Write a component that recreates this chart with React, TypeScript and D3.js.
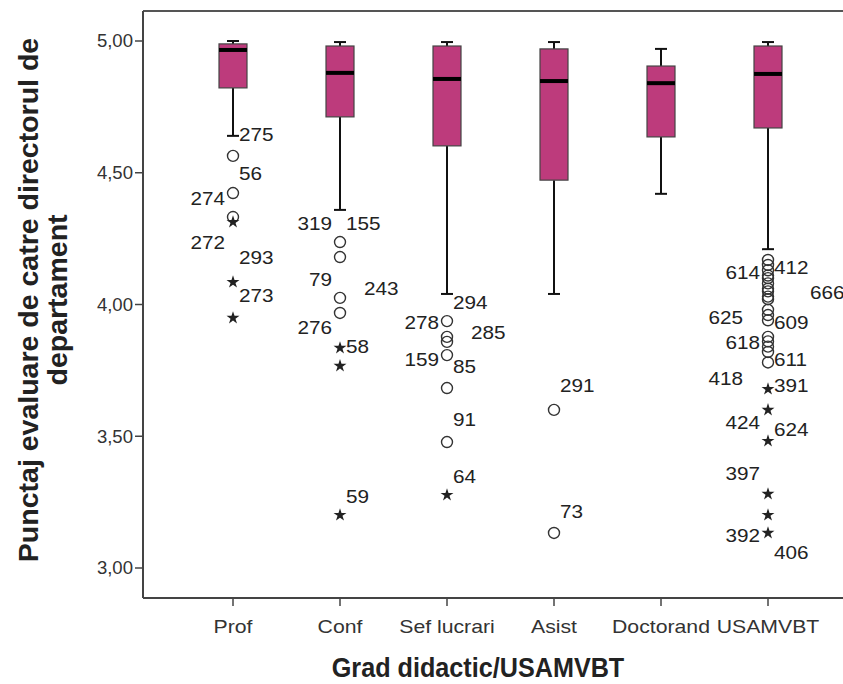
import React from "react";
import * as d3 from "d3";

const categories = ["Prof", "Conf", "Sef lucrari", "Asist", "Doctorand", "USAMVBT"];
const whiskerHigh = [5.0, 4.996, 4.996, 4.996, 4.97, 4.996];
const q3 = [4.989, 4.981, 4.981, 4.97, 4.905, 4.981];
const median = [4.966, 4.879, 4.856, 4.848, 4.84, 4.875];
const q1 = [4.822, 4.712, 4.602, 4.472, 4.636, 4.67];
const whiskerLow = [4.64, 4.359, 4.04, 4.04, 4.42, 4.21];

// outliers: [category, value]
const circleOutliers: [string, number][] = [
  ["Prof", 4.564], ["Prof", 4.423], ["Prof", 4.332],
  ["Conf", 4.237], ["Conf", 4.18], ["Conf", 4.025], ["Conf", 3.968],
  ["Sef lucrari", 3.937], ["Sef lucrari", 3.877], ["Sef lucrari", 3.858], ["Sef lucrari", 3.808],
  ["Sef lucrari", 3.683], ["Sef lucrari", 3.478],
  ["Asist", 3.6], ["Asist", 3.133],
  ["USAMVBT", 4.169], ["USAMVBT", 4.15], ["USAMVBT", 4.13], ["USAMVBT", 4.11], ["USAMVBT", 4.1],
  ["USAMVBT", 4.08], ["USAMVBT", 4.06], ["USAMVBT", 4.05], ["USAMVBT", 4.03], ["USAMVBT", 4.02],
  ["USAMVBT", 3.98], ["USAMVBT", 3.96], ["USAMVBT", 3.94],
  ["USAMVBT", 3.877], ["USAMVBT", 3.86], ["USAMVBT", 3.84], ["USAMVBT", 3.82], ["USAMVBT", 3.78],
];
const starOutliers: [string, number][] = [
  ["Prof", 4.313], ["Prof", 4.085], ["Prof", 3.949],
  ["Conf", 3.835], ["Conf", 3.767], ["Conf", 3.201],
  ["Sef lucrari", 3.277],
  ["USAMVBT", 3.679], ["USAMVBT", 3.6], ["USAMVBT", 3.482], ["USAMVBT", 3.281], ["USAMVBT", 3.201], ["USAMVBT", 3.133],
];
// case labels: [text, category, value at label centre, side]
const caseLabels: [string, string, number, string][] = [
  ["275", "Prof", 4.647, "r"], ["56", "Prof", 4.499, "r"], ["274", "Prof", 4.404, "l"],
  ["272", "Prof", 4.237, "l"], ["293", "Prof", 4.18, "r"], ["273", "Prof", 4.036, "r"],
  ["319", "Conf", 4.309, "l"], ["155", "Conf", 4.309, "r"], ["79", "Conf", 4.093, "l"],
  ["243", "Conf", 4.059, "rr"], ["276", "Conf", 3.911, "l"], ["58", "Conf", 3.839, "r"], ["59", "Conf", 3.273, "r"],
  ["294", "Sef lucrari", 4.009, "r"], ["278", "Sef lucrari", 3.93, "l"], ["285", "Sef lucrari", 3.892, "rr"],
  ["159", "Sef lucrari", 3.79, "l"], ["85", "Sef lucrari", 3.763, "r"], ["91", "Sef lucrari", 3.562, "r"],
  ["64", "Sef lucrari", 3.349, "r"],
  ["291", "Asist", 3.691, "r"], ["73", "Asist", 3.213, "r"],
  ["614", "USAMVBT", 4.12, "l"], ["412", "USAMVBT", 4.139, "r"], ["666", "USAMVBT", 4.047, "rrr"],
  ["625", "USAMVBT", 3.949, "ll"], ["609", "USAMVBT", 3.93, "r"], ["618", "USAMVBT", 3.854, "l"],
  ["611", "USAMVBT", 3.79, "r"], ["418", "USAMVBT", 3.721, "ll"], ["391", "USAMVBT", 3.691, "r"],
  ["424", "USAMVBT", 3.554, "l"], ["624", "USAMVBT", 3.524, "r"], ["397", "USAMVBT", 3.36, "l"],
  ["392", "USAMVBT", 3.125, "l"], ["406", "USAMVBT", 3.057, "r"],
];
const yTicks = [3.0, 3.5, 4.0, 4.5, 5.0];
const xTitle = "Grad didactic/USAMVBT";
const yTitleLines = ["Punctaj evaluare de catre directorul de", "departament"];

const W = 843, H = 684;
const frame = { left: 143, top: 11, bottom: 598 };
const FILL = "#bd3b7c";
const FONT = "'Liberation Sans', Arial, sans-serif";

const sideOffset: Record<string, [number, string]> = {
  r: [6, "start"], rr: [24, "start"], rrr: [42, "start"],
  l: [-8, "end"], ll: [-25, "end"],
};

function SText({ x, y, sx = 1.15, anchor = "start", size = 18, fill = "#222", weight = "normal", children }: any) {
  return (
    <text transform={`translate(${x},${y}) scale(${sx},1)`} textAnchor={anchor}
      dominantBaseline="central" fontFamily={FONT} fontSize={size} fontWeight={weight} fill={fill}>
      {children}
    </text>
  );
}

export default function App() {
  const y = d3.scaleLinear().domain([3, 5]).range([568, 41]);
  const x = d3.scalePoint<string>().domain(categories).range([233, 768]);
  const bw = 28, cw = 12;
  const fmt = (v: number) => d3.format(".2f")(v).replace(".", ",");
  const star = d3.symbol().type(d3.symbolStar).size(52)();

  return (
    <svg width={W} height={H} style={{ display: "block", position: "absolute", left: 0, top: 0 }}>
      <rect width={W} height={H} fill="#fff" />
      {/* frame */}
      <line x1={frame.left} x2={W + 5} y1={frame.top} y2={frame.top} stroke="#555" strokeWidth={2} />
      <line x1={frame.left} x2={frame.left} y1={frame.top} y2={frame.bottom} stroke="#444" strokeWidth={2} />
      <line x1={frame.left} x2={W + 5} y1={frame.bottom} y2={frame.bottom} stroke="#444" strokeWidth={2} />
      {/* y ticks */}
      {yTicks.map((t) => (
        <g key={t}>
          <line x1={frame.left - 8} x2={frame.left} y1={y(t)} y2={y(t)} stroke="#444" strokeWidth={1.5} />
          <SText x={133} y={y(t)} anchor="end" fill="#333" sx={1.03}>{fmt(t)}</SText>
        </g>
      ))}
      {/* x ticks */}
      {categories.map((c) => (
        <g key={c}>
          <line x1={x(c)} x2={x(c)} y1={frame.bottom} y2={frame.bottom + 8} stroke="#444" strokeWidth={1.5} />
          <SText x={x(c)} y={627} anchor="middle" fill="#333" sx={1.18}>{c}</SText>
        </g>
      ))}
      {/* boxes */}
      {categories.map((c, i) => {
        const cx = x(c)!;
        return (
          <g key={c}>
            <line x1={cx} x2={cx} y1={y(whiskerHigh[i])} y2={y(q3[i])} stroke="#111" strokeWidth={2} />
            <line x1={cx} x2={cx} y1={y(q1[i])} y2={y(whiskerLow[i])} stroke="#111" strokeWidth={2} />
            <line x1={cx - cw / 2} x2={cx + cw / 2} y1={y(whiskerHigh[i])} y2={y(whiskerHigh[i])} stroke="#111" strokeWidth={2} />
            <line x1={cx - cw / 2} x2={cx + cw / 2} y1={y(whiskerLow[i])} y2={y(whiskerLow[i])} stroke="#111" strokeWidth={2} />
            <rect x={cx - bw / 2} width={bw} y={y(q3[i])} height={y(q1[i]) - y(q3[i])} fill={FILL} stroke="#444" strokeWidth={1.2} />
            <line x1={cx - bw / 2} x2={cx + bw / 2} y1={y(median[i])} y2={y(median[i])} stroke="#000" strokeWidth={4} />
          </g>
        );
      })}
      {/* outliers */}
      {circleOutliers.map(([c, v], i) => (
        <circle key={"c" + i} cx={x(c)} cy={y(v)} r={5.5} fill="none" stroke="#333" strokeWidth={1.4} />
      ))}
      {starOutliers.map(([c, v], i) => (
        <path key={"s" + i} d={star!} transform={`translate(${x(c)},${y(v)})`} fill="#222" />
      ))}
      {caseLabels.map(([t, c, v, side], i) => {
        const [dx, anchor] = sideOffset[side];
        return <SText key={"l" + i} x={x(c)! + dx} y={y(v)} anchor={anchor}>{t}</SText>;
      })}
      {/* titles */}
      <SText x={478} y={668} anchor="middle" size={28} sx={0.9} weight="bold">{xTitle}</SText>
      {yTitleLines.map((l, i) => (
        <text key={i} transform={`translate(${28 + i * 29},300) rotate(-90)`} textAnchor="middle"
          dominantBaseline="central" fontFamily={FONT} fontWeight="bold" fontSize={28.5} fill="#222">{l}</text>
      ))}
    </svg>
  );
}
